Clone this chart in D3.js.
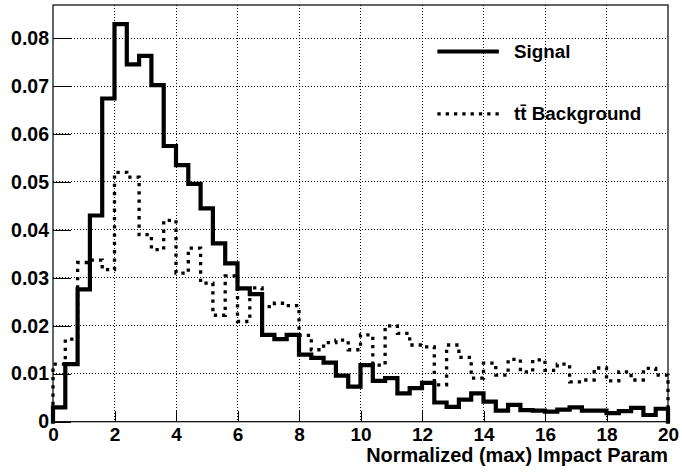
<!DOCTYPE html>
<html>
<head>
<meta charset="utf-8">
<script src="https://cdn.jsdelivr.net/npm/d3@7"></script>
<style>
  html, body { margin: 0; padding: 0; background: #fff; }
  svg text { font-family: "Liberation Sans", Arial, Helvetica, sans-serif; font-weight: bold; fill: #000; }
</style>
</head>
<body>
<svg id="chart" width="682" height="472"></svg>
<script>
// Histogram binning: 50 bins of width 0.4 over [0, 20]
const binLow = 0, binHigh = 20, nBins = 50;

// Signal distribution (normalised), one value per bin
const signalValues = [
  0.0030, 0.0120, 0.0276, 0.0430, 0.0674, 0.0829, 0.0745, 0.0763, 0.0702, 0.0575,
  0.0535, 0.0496, 0.0445, 0.0372, 0.0330, 0.0278, 0.0266, 0.0181, 0.0172, 0.0181,
  0.0140, 0.0133, 0.0123, 0.0096, 0.0073, 0.0118, 0.0085, 0.0091, 0.0059, 0.0070,
  0.0081, 0.0040, 0.0031, 0.0046, 0.0059, 0.0042, 0.0023, 0.0035, 0.0024, 0.0023,
  0.0021, 0.0025, 0.0030, 0.0023, 0.0023, 0.0018, 0.0022, 0.0029, 0.0014, 0.0027
];

// ttbar background distribution (normalised), one value per bin
const backgroundValues = [
  0.0120, 0.0172, 0.0332, 0.0337, 0.0317, 0.0520, 0.0510, 0.0390, 0.0359, 0.0420,
  0.0310, 0.0362, 0.0289, 0.0222, 0.0304, 0.0209, 0.0279, 0.0240, 0.0247, 0.0242,
  0.0180, 0.0150, 0.0165, 0.0170, 0.0150, 0.0181, 0.0118, 0.0200, 0.0184, 0.0160,
  0.0156, 0.0077, 0.0160, 0.0134, 0.0091, 0.0122, 0.0097, 0.0130, 0.0104, 0.0129,
  0.0107, 0.0120, 0.0083, 0.0087, 0.0112, 0.0085, 0.0104, 0.0087, 0.0111, 0.0097
];

// Axis ticks and labels
const xMajorTicks = [0, 2, 4, 6, 8, 10, 12, 14, 16, 18, 20];
const xMinorStep = 0.5;
const yMajorTicks = [0, 0.01, 0.02, 0.03, 0.04, 0.05, 0.06, 0.07, 0.08];
const yMinorStep = 0.002;
const yMax = 0.0869;
const xTitle = "Normalized (max) Impact Param";
const legendLabels = ["Signal", "t\u0074\u0304 Background"];

const frame = { left: 53, right: 668, top: 5, bottom: 421.7 };
const svg = d3.select("#chart");

const x = d3.scaleLinear().domain([binLow, binHigh]).range([frame.left, frame.right]);
const y = d3.scaleLinear().domain([0, yMax]).range([frame.bottom, frame.top]);

svg.append("rect").attr("width", 682).attr("height", 472).attr("fill", "#fff");

// Grid (dotted) at the major ticks
const grid = svg.append("g").attr("stroke", "#000").attr("stroke-width", 1)
  .attr("stroke-dasharray", "1,2").attr("shape-rendering", "crispEdges");
grid.selectAll("line.gx").data(xMajorTicks.filter(d => d > binLow && d < binHigh)).join("line")
  .attr("x1", d => x(d)).attr("x2", d => x(d)).attr("y1", frame.top).attr("y2", frame.bottom);
grid.selectAll("line.gy").data(yMajorTicks.filter(d => d > 0)).join("line")
  .attr("y1", d => y(d)).attr("y2", d => y(d)).attr("x1", frame.left).attr("x2", frame.right);

// Step outline of a histogram, closed down to zero at both ends
const binWidth = (binHigh - binLow) / nBins;
function stepPoints(vals) {
  const pts = [[binLow, 0]];
  vals.forEach((v, i) => {
    pts.push([binLow + i * binWidth, v]);
    pts.push([binLow + (i + 1) * binWidth, v]);
  });
  pts.push([binHigh, 0]);
  return pts;
}
const line = d3.line().x(d => x(d[0])).y(d => y(d[1]));

svg.append("path").attr("d", line(stepPoints(backgroundValues)))
  .attr("fill", "none").attr("stroke", "#000").attr("stroke-width", 3.3)
  .attr("stroke-dasharray", "3.3,5").attr("stroke-linejoin", "miter");

svg.append("path").attr("d", line(stepPoints(signalValues)))
  .attr("fill", "none").attr("stroke", "#000").attr("stroke-width", 4.2)
  .attr("stroke-linejoin", "miter").attr("stroke-linecap", "square");

// Axes: ticks drawn inward
const xMinor = d3.range(binLow, binHigh + 1e-9, xMinorStep);
const yMinor = d3.range(0, yMax, yMinorStep);

const gx = svg.append("g").attr("transform", `translate(0,${frame.bottom})`);
gx.call(d3.axisBottom(x).tickValues(xMinor).tickSize(-6).tickFormat(""));
gx.call(d3.axisBottom(x).tickValues(xMajorTicks).tickSize(-11).tickPadding(6).tickFormat(d3.format("d")));

const gy = svg.append("g").attr("transform", `translate(${frame.left},0)`);
gy.call(d3.axisLeft(y).tickValues(yMinor).tickSize(-10).tickFormat(""));
gy.call(d3.axisLeft(y).tickValues(yMajorTicks).tickSize(-18).tickPadding(4)
  .tickFormat(d => d === 0 ? "0" : d3.format(".2f")(d)));

[gx, gy].forEach(g => {
  g.selectAll(".domain").remove();
  g.selectAll("line").attr("stroke", "#000").attr("stroke-width", 1).attr("shape-rendering", "crispEdges");
  g.selectAll("text").attr("font-family", null).attr("fill", "#000");
});
gx.selectAll("text").attr("font-size", 19);
gy.selectAll("text").attr("font-size", 19.5);

// Frame
svg.append("rect")
  .attr("x", frame.left).attr("y", frame.top)
  .attr("width", frame.right - frame.left).attr("height", frame.bottom - frame.top)
  .attr("fill", "none").attr("stroke", "#000").attr("stroke-width", 1.2);

// X axis title, right-aligned
svg.append("text").attr("x", frame.right).attr("y", 461.5)
  .attr("text-anchor", "end").attr("font-size", 19.9).text(xTitle);

// Legend
const leg = svg.append("g");
const legY = [y(0.0772), y(0.0642)];
leg.append("line").attr("x1", x(12.5)).attr("x2", x(14.5)).attr("y1", legY[0]).attr("y2", legY[0])
  .attr("stroke", "#000").attr("stroke-width", 4.2);
leg.append("line").attr("x1", x(12.5)).attr("x2", x(14.5)).attr("y1", legY[1]).attr("y2", legY[1])
  .attr("stroke", "#000").attr("stroke-width", 3.3).attr("stroke-dasharray", "3.3,5");
legendLabels.forEach((t, i) => {
  leg.append("text").attr("x", 514).attr("y", legY[i] + 6).attr("font-size", 18.8).text(t);
});
</script>
</body>
</html>
